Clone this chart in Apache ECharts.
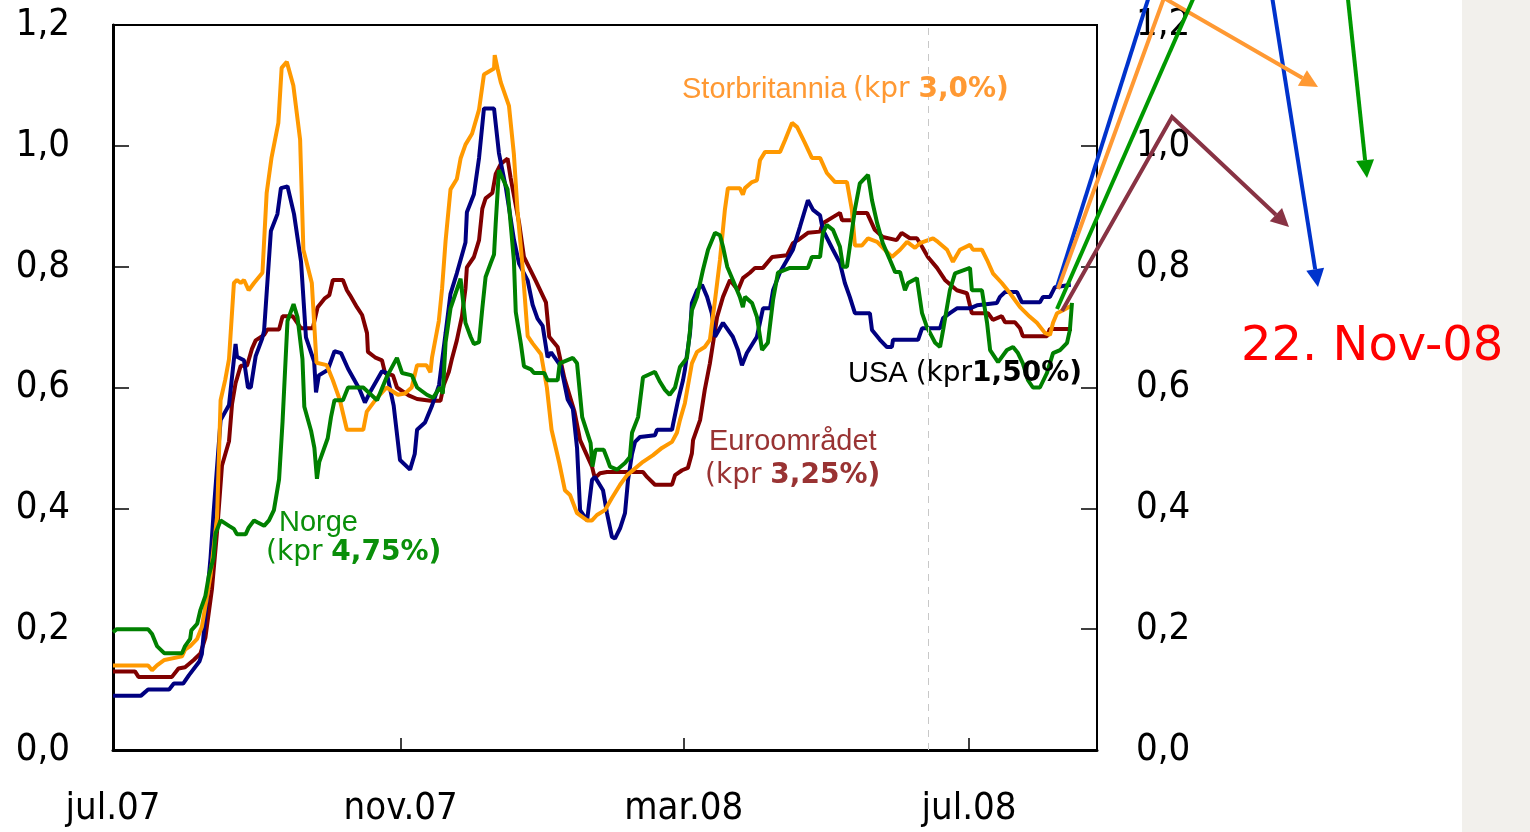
<!DOCTYPE html>
<html>
<head>
<meta charset="utf-8">
<title>Renteforventninger</title>
<script src="https://cdn.jsdelivr.net/npm/echarts@6/dist/echarts.min.js"></script>
<style>
  html, body { margin: 0; padding: 0; background: #fff; }
  #chart { width: 1530px; height: 832px; }
</style>
</head>
<body>
<div id="chart"></div>
<script>
// x = dager etter 1. juli 2007, y = verdi
const xTickDays = [0, 123, 244, 366]
const xTickLabels = ['jul.07', 'nov.07', 'mar.08', 'jul.08']
const yTickLabels = ['0,0', '0,2', '0,4', '0,6', '0,8', '1,0', '1,2']
const markerDay = 348.4

const usa = [[0,0.09],[12,0.09],[15,0.10],[24,0.10],[26,0.11],[30,0.11],[32.5,0.124],[37,0.147],[38,0.159],[41.7,0.318],[43,0.392],[46,0.546],[49.6,0.571],[52.4,0.672],[53,0.651],[56,0.645],[57.7,0.60],[58.9,0.60],[61,0.652],[63.7,0.68],[64.6,0.694],[67.5,0.859],[70.3,0.887],[71.8,0.93],[74.6,0.933],[77.4,0.887],[80.4,0.808],[82.5,0.683],[86,0.643],[86.8,0.592],[88,0.62],[91.8,0.629],[94.7,0.66],[97.5,0.657],[100.5,0.631],[105.4,0.597],[107.7,0.575],[110,0.593],[115,0.627],[117,0.624],[120,0.57],[122.7,0.48],[127,0.464],[129,0.49],[130,0.53],[133.4,0.542],[136.4,0.57],[139.4,0.604],[142.2,0.69],[144.3,0.755],[147,0.789],[150.7,0.84],[151.3,0.89],[154.3,0.92],[156.5,0.98],[158.6,1.062],[162.9,1.062],[165,0.988],[168,0.93],[171.4,0.845],[173.6,0.805],[177.3,0.777],[179.4,0.737],[181.5,0.714],[183.7,0.702],[185.8,0.65],[187.3,0.658],[191.5,0.635],[194.4,0.58],[196.6,0.565],[198.4,0.50],[199.7,0.397],[202.7,0.38],[204.8,0.447],[206,0.452],[209.5,0.43],[211.2,0.392],[213.3,0.353],[214.6,0.35],[216.8,0.367],[218.9,0.392],[220.2,0.447],[221.9,0.49],[223.2,0.51],[225.3,0.518],[231.7,0.521],[232.6,0.53],[239,0.53],[239.5,0.54],[241.6,0.579],[243.7,0.612],[244.5,0.629],[246.7,0.69],[247.5,0.74],[249.7,0.761],[251.8,0.77],[254,0.75],[256,0.723],[257.4,0.684],[260.8,0.707],[265,0.684],[267.2,0.662],[268.9,0.637],[271,0.657],[275.3,0.684],[277.9,0.731],[280.9,0.731],[282.2,0.761],[285.2,0.791],[290.7,0.828],[293.7,0.866],[297.1,0.91],[299.3,0.894],[302.3,0.885],[303.5,0.861],[307.8,0.828],[310.8,0.806],[312.9,0.773],[315,0.75],[317.2,0.723],[323.6,0.723],[324.5,0.695],[327.9,0.679],[330.9,0.667],[333,0.667],[333.5,0.679],[344.2,0.679],[345.9,0.698],[353.6,0.698],[354.9,0.715],[357.8,0.723],[360.8,0.731],[366.4,0.731],[369.4,0.736],[377.9,0.74],[379.2,0.75],[381.4,0.758],[386.5,0.758],[388.6,0.741],[396.3,0.741],[397.6,0.75],[400.6,0.75],[402.7,0.766],[409.5,0.77]]

const storbritannia = [[0,0.14],[15,0.14],[16.7,0.132],[18.8,0.14],[22,0.149],[29.5,0.155],[30.8,0.166],[33,0.172],[36,0.184],[38,0.204],[41.7,0.289],[44.5,0.386],[46,0.579],[48,0.613],[49.6,0.647],[51.7,0.773],[53,0.778],[54.6,0.773],[56,0.778],[58,0.761],[60.3,0.773],[63.9,0.79],[65.7,0.922],[67.8,0.981],[70.7,1.038],[72.1,1.129],[74.3,1.139],[77.1,1.10],[80,1.01],[81.4,0.828],[85,0.773],[87,0.641],[91.4,0.637],[94,0.612],[97,0.579],[100,0.53],[107,0.53],[108.5,0.56],[112.7,0.582],[117,0.60],[121.8,0.588],[124.8,0.59],[127.7,0.60],[130,0.637],[134,0.637],[135.7,0.625],[136.4,0.65],[139.3,0.71],[140.7,0.764],[142.2,0.843],[144.3,0.928],[147,0.945],[148.6,0.979],[150.7,1.002],[153.5,1.02],[156.5,1.06],[158.6,1.118],[162.9,1.128],[163.2,1.15],[164.4,1.128],[165.8,1.105],[169.3,1.066],[171.4,0.986],[173,0.89],[175,0.805],[177.3,0.685],[179.4,0.673],[183,0.655],[185.5,0.60],[187.5,0.53],[190.8,0.475],[193.2,0.43],[195.4,0.422],[198.4,0.392],[202.7,0.38],[204.8,0.38],[206.9,0.389],[210.3,0.397],[213.3,0.417],[216.8,0.439],[219.8,0.455],[226.6,0.477],[230.9,0.488],[234.7,0.50],[239,0.51],[241.1,0.525],[242.4,0.546],[244.5,0.574],[247.5,0.64],[249.7,0.659],[253,0.667],[255.2,0.679],[257.4,0.745],[259.5,0.811],[261.6,0.894],[262.9,0.93],[268,0.93],[269.3,0.919],[270.2,0.93],[273.2,0.94],[275.3,0.943],[276.6,0.976],[278.8,0.99],[285.2,0.99],[287.4,1.01],[290.3,1.038],[292.5,1.031],[295.8,1.005],[298.8,0.98],[302.3,0.98],[305.2,0.955],[308.7,0.94],[313.8,0.94],[315.9,0.894],[317.2,0.835],[320.2,0.835],[322.8,0.847],[326.7,0.841],[330,0.828],[333,0.816],[336.5,0.828],[339.5,0.841],[342.9,0.831],[345,0.839],[350.6,0.847],[352.7,0.841],[356.6,0.828],[359.1,0.808],[362.1,0.828],[366.4,0.836],[367.7,0.828],[371.5,0.828],[373.7,0.811],[376.2,0.789],[380,0.773],[383.5,0.756],[387.8,0.733],[392,0.717],[395,0.707],[398.5,0.69],[400.6,0.687],[401.9,0.707],[403.6,0.723],[406.2,0.728],[409.5,0.735]]

const euroomradet = [[0,0.13],[9.4,0.13],[10.9,0.121],[25.2,0.121],[28,0.135],[30.8,0.137],[34.5,0.149],[37.4,0.16],[39.5,0.186],[42.3,0.266],[44.5,0.362],[46.6,0.471],[49.6,0.511],[50.9,0.573],[52.4,0.607],[54.6,0.636],[57.3,0.636],[59.4,0.664],[61,0.678],[64.6,0.687],[66,0.696],[71,0.696],[72.5,0.718],[76.8,0.718],[80.4,0.698],[85.4,0.698],[87.5,0.733],[90.4,0.747],[92.5,0.753],[94,0.778],[98.3,0.778],[100,0.761],[101.3,0.753],[104.3,0.733],[106.5,0.72],[108.6,0.69],[109,0.659],[112,0.65],[115,0.645],[116.3,0.624],[119.7,0.62],[121.4,0.60],[126.4,0.587],[130,0.581],[135.7,0.578],[140,0.578],[141.4,0.604],[143.6,0.626],[145,0.649],[147,0.678],[149.2,0.718],[150.7,0.764],[151.3,0.799],[154.3,0.816],[156.5,0.844],[157.9,0.896],[159.3,0.913],[162.2,0.922],[163.6,0.953],[165.8,0.97],[168.7,0.979],[170,0.947],[173.6,0.873],[175.7,0.816],[177.9,0.799],[180.8,0.776],[185.1,0.741],[186.5,0.684],[190.1,0.667],[193,0.615],[197.3,0.56],[199.7,0.513],[204.8,0.469],[206,0.45],[208.2,0.458],[211.2,0.46],[226.6,0.46],[228.3,0.452],[231.7,0.439],[239,0.439],[240.3,0.455],[243.3,0.463],[245.8,0.467],[247.5,0.491],[248,0.513],[251,0.546],[253,0.596],[255.2,0.64],[258.3,0.717],[260.8,0.75],[263.8,0.778],[267.2,0.761],[269.3,0.781],[272.3,0.79],[274.5,0.798],[277.9,0.798],[281.8,0.816],[288.2,0.819],[290.7,0.839],[292.9,0.844],[297.1,0.856],[302.3,0.858],[303.5,0.872],[307.8,0.882],[310.8,0.889],[311.7,0.877],[316,0.877],[317.2,0.889],[322.4,0.889],[325.7,0.861],[329.1,0.849],[335,0.844],[337.2,0.856],[340.7,0.847],[343.7,0.847],[345.9,0.833],[348.4,0.816],[352.3,0.798],[355.7,0.778],[360.8,0.761],[365.1,0.756],[367.2,0.723],[374.1,0.723],[376.2,0.712],[380,0.718],[381.4,0.708],[385.6,0.708],[387.8,0.698],[389,0.685],[399.3,0.685],[400.6,0.697],[410,0.697]]

const norge = [[0,0.195],[1.6,0.20],[15,0.20],[16.7,0.192],[18.8,0.172],[22,0.16],[29.5,0.16],[30.8,0.172],[33,0.184],[33.5,0.198],[36,0.209],[37.4,0.232],[39.5,0.255],[41,0.289],[43,0.318],[43.8,0.358],[46,0.38],[49.6,0.371],[51.7,0.366],[53,0.357],[56.7,0.357],[58,0.368],[60.3,0.38],[61.7,0.377],[64.6,0.371],[66.7,0.38],[68.8,0.397],[71,0.448],[72.5,0.544],[74.6,0.71],[77.2,0.738],[78.9,0.716],[81,0.647],[81.8,0.568],[84.7,0.528],[86.1,0.50],[87.2,0.449],[88.2,0.477],[91.8,0.516],[93.2,0.551],[94.7,0.579],[98.3,0.579],[100.5,0.60],[107,0.60],[112.9,0.579],[117.1,0.618],[121.4,0.649],[123.6,0.624],[127.8,0.62],[130,0.60],[134.2,0.588],[136.8,0.583],[139.8,0.60],[141,0.59],[142.2,0.675],[144.3,0.731],[146.4,0.755],[148.6,0.78],[150.7,0.707],[152.9,0.684],[154.3,0.672],[156.5,0.675],[157.9,0.731],[159.3,0.783],[161.5,0.806],[162.9,0.82],[163.6,0.87],[165,0.96],[168.7,0.928],[171.4,0.81],[172.2,0.725],[174.4,0.672],[175.7,0.635],[178.7,0.63],[180,0.624],[184.4,0.624],[185.8,0.612],[190.1,0.612],[191,0.64],[196.6,0.649],[198.4,0.64],[200.6,0.551],[204.2,0.508],[205,0.469],[206.3,0.497],[209.8,0.497],[211.5,0.48],[212.5,0.469],[215.5,0.464],[218.9,0.475],[221,0.485],[221.9,0.525],[224.5,0.551],[226.6,0.617],[231.7,0.626],[233.9,0.609],[236,0.596],[238,0.588],[240.3,0.60],[242.4,0.634],[245.4,0.649],[246.7,0.695],[247.5,0.728],[249.7,0.75],[252.2,0.794],[254.4,0.828],[257.4,0.856],[259.5,0.852],[260.8,0.833],[262.6,0.80],[265,0.778],[268,0.75],[269.3,0.733],[270.2,0.75],[273.2,0.74],[275.3,0.717],[277.5,0.662],[280,0.674],[282.2,0.745],[284.3,0.79],[289.4,0.798],[297.1,0.798],[298.8,0.816],[302.3,0.816],[303.5,0.856],[305.2,0.869],[307.8,0.861],[310.8,0.833],[312.1,0.80],[313.8,0.80],[315,0.833],[317.2,0.895],[319.3,0.938],[322.8,0.952],[324.5,0.91],[326.7,0.872],[329.1,0.839],[332.2,0.811],[334.4,0.791],[336.5,0.791],[338.6,0.761],[339.9,0.773],[343.7,0.781],[345.9,0.723],[348,0.70],[351.5,0.674],[353.6,0.667],[354.9,0.695],[357.8,0.761],[360,0.789],[366.4,0.798],[367.2,0.761],[371.5,0.761],[373.7,0.707],[375,0.662],[378.4,0.642],[382.2,0.662],[384.8,0.667],[386.9,0.657],[389,0.64],[391.2,0.612],[393.3,0.60],[396.3,0.60],[399.3,0.624],[401.9,0.657],[404.9,0.662],[407.9,0.674],[409.1,0.695],[410,0.74]]

const axisFont = '"Liberation Sans Narrow", "DejaVu Sans Condensed", "Liberation Sans", sans-serif'
const nameFont = '"Liberation Sans", Arial, sans-serif'
const kprFont = '"DejaVu Sans", Verdana, sans-serif'

const chart = echarts.init(document.getElementById('chart'))

// pil: polyline + pilspiss på siste segment
function arrow(points, color, width, head) {
  const n = points.length
  const tip = points[n - 1]
  const prev = points[n - 2]
  const len = Math.hypot(tip[0] - prev[0], tip[1] - prev[1])
  const ux = (tip[0] - prev[0]) / len
  const uy = (tip[1] - prev[1]) / len
  const bx = tip[0] - ux * 18
  const by = tip[1] - uy * 18
  const els = [{
    type: 'polyline', z: 100,
    shape: { points: head ? points.slice(0, n - 1).concat([[bx, by]]) : points },
    style: { stroke: color, lineWidth: width, fill: null }
  }]
  if (head) {
    els.push({
      type: 'polygon', z: 100,
      shape: { points: [tip, [bx - uy * 9, by + ux * 9], [bx + uy * 9, by - ux * 9]] },
      style: { fill: color }
    })
  }
  return els
}

function label(x, y, text, color, rich) {
  return {
    type: 'text', x: x, y: y, z: 110,
    style: { text: text, fill: color, verticalAlign: 'middle', align: 'left', rich: rich }
  }
}

function kprRich(color) {
  return {
    n: { fontFamily: nameFont, fontSize: 29, color: color },
    k: { fontFamily: kprFont, fontSize: 28, color: color },
    b: { fontFamily: kprFont, fontSize: 28, fontWeight: 'bold', color: color }
  }
}

const graphics = [
  { type: 'rect', z: -10, shape: { x: 1462, y: 0, width: 68, height: 832 }, style: { fill: '#f2f0ec' } }
]
  .concat(arrow([[1057, 287], [1151, -10]], '#0033cc', 4, false))
  .concat(arrow([[1271, -10], [1318, 287]], '#0033cc', 4, true))
  .concat(arrow([[1058, 289], [1164, -2], [1318, 87]], '#ff9933', 4, true))
  .concat(arrow([[1057, 309], [1197, -10]], '#009900', 4, false))
  .concat(arrow([[1347, -10], [1367, 178]], '#009900', 4, true))
  .concat(arrow([[1062, 311], [1172, 117], [1289, 227]], '#883344', 4, true))
  .concat([
    label(682, 90, '{n|Storbritannia}  {k|(kpr }{b|3,0%)}', '#ff9933', kprRich('#ff9933')),
    label(848, 374, '{n|USA }{k|(kpr}{b|1,50%)}', '#000', kprRich('#111')),
    label(709, 442, '{n|Euroområdet}', '#993333', kprRich('#993333')),
    label(705, 476, '{k|(kpr }{b|3,25%)}', '#993333', kprRich('#8b3a3a')),
    label(279, 523, '{n|Norge}', '#0a8f0a', kprRich('#0a8f0a')),
    label(266, 553, '{k|(kpr }{b|4,75%)}', '#0a8f0a', kprRich('#0a8f0a')),
    {
      type: 'text', x: 1241, y: 348, z: 110,
      style: { text: '22. Nov-08', fill: '#ff0000', fontFamily: kprFont, fontSize: 48, verticalAlign: 'middle' }
    }
  ])

function yAxis(position, lineWidth, margin) {
  return {
    type: 'value', position: position, min: 0, max: 1.2, interval: 0.2,
    splitLine: { show: false },
    axisLine: { show: true, lineStyle: { color: '#000', width: lineWidth } },
    axisTick: { inside: true, length: 16, lineStyle: { color: '#000', width: 1.5 } },
    axisLabel: {
      margin: margin, color: '#000', fontSize: 38, fontFamily: axisFont,
      formatter: v => yTickLabels[Math.round(v / 0.2)]
    }
  }
}

function line(name, data, color) {
  return {
    name: name, type: 'line', data: data, showSymbol: false, symbol: 'none',
    lineStyle: { color: color, width: 4 }, itemStyle: { color: color },
    clip: true
  }
}

const series = [
  line('Euroområdet', euroomradet, '#800000'),
  line('USA', usa, '#000080'),
  line('Storbritannia', storbritannia, '#ff9900'),
  line('Norge', norge, '#008000')
]
series[0].markLine = {
  silent: true, symbol: 'none', label: { show: false },
  lineStyle: { color: '#c8c8c8', type: [7, 6], width: 1 },
  data: [{ xAxis: markerDay }]
}

chart.setOption({
  animation: false,
  backgroundColor: '#fff',
  grid: {
    left: 113, right: 433, top: 25, bottom: 82,
    show: true, borderColor: '#000', borderWidth: 2,
    outerBoundsMode: 'none'
  },
  xAxis: {
    type: 'value', min: 0, max: 420.7,
    splitLine: { show: false },
    axisLine: { lineStyle: { color: '#000', width: 3 } },
    axisTick: { inside: true, length: 12, customValues: xTickDays, lineStyle: { color: '#000', width: 1.5 } },
    axisLabel: {
      customValues: xTickDays, margin: 40, color: '#000', fontSize: 38, fontFamily: axisFont,
      formatter: v => xTickLabels[xTickDays.indexOf(Math.round(v))] || ''
    }
  },
  yAxis: [yAxis('left', 3, 43), yAxis('right', 2, 39)],
  series: series,
  graphic: graphics
})
</script>
</body>
</html>
